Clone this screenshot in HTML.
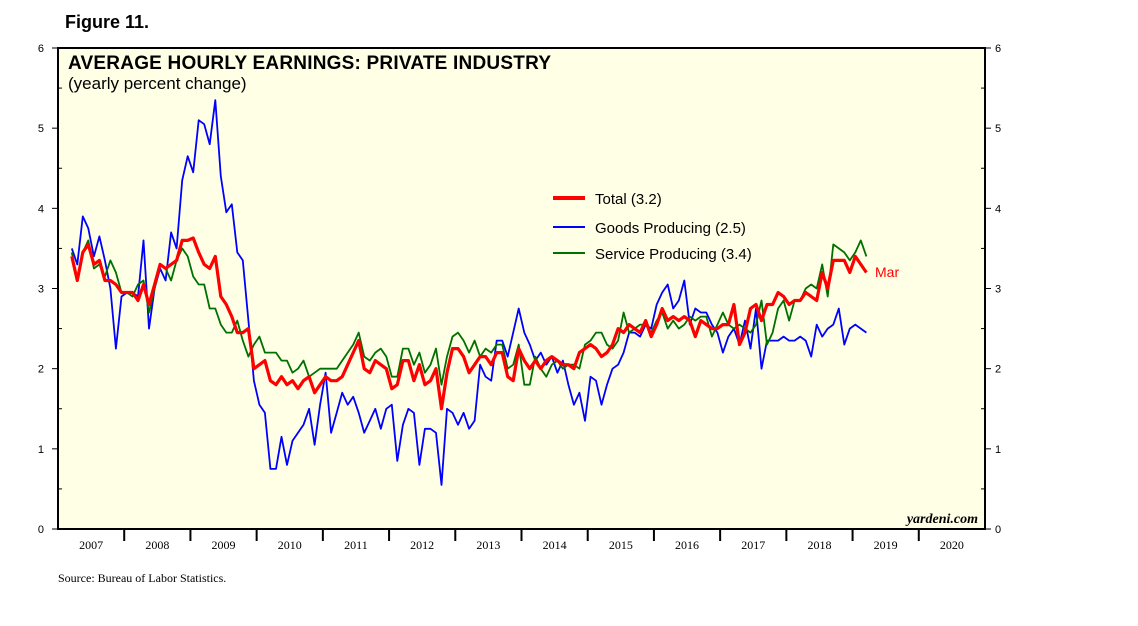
<!DOCTYPE html>
<html><head><meta charset="utf-8"><style>
body{margin:0;background:#fff;width:1138px;height:621px;overflow:hidden;font-family:"Liberation Sans",sans-serif}
</style></head><body>
<svg width="1138" height="621" xmlns="http://www.w3.org/2000/svg">
<text x="65" y="28" font-size="18" font-weight="bold" font-family="Liberation Sans">Figure 11.</text>
<rect x="58" y="48" width="927" height="481" fill="#ffffe6" stroke="#000" stroke-width="2"/>
<text x="68" y="69" font-size="19" font-weight="bold" font-family="Liberation Sans" textLength="483">AVERAGE HOURLY EARNINGS: PRIVATE INDUSTRY</text>
<text x="68" y="89" font-size="17" font-family="Liberation Sans">(yearly percent change)</text>
<g id="axes"></g>
<g id="series"></g>
<g>
<line x1="553" y1="198" x2="585" y2="198" stroke="#f00" stroke-width="4"/>
<text x="595" y="204" font-size="15">Total (3.2)</text>
<line x1="553" y1="227" x2="585" y2="227" stroke="#00f" stroke-width="2"/>
<text x="595" y="233" font-size="15">Goods Producing (2.5)</text>
<line x1="553" y1="253" x2="585" y2="253" stroke="#007000" stroke-width="2"/>
<text x="595" y="259" font-size="15">Service Producing (3.4)</text>
</g>
<text x="875" y="277" font-size="14" fill="#f00">Mar</text>
<text x="978" y="523" font-size="14" font-style="italic" font-weight="bold" font-family="Liberation Serif" text-anchor="end">yardeni.com</text>
<text x="58" y="582" font-size="12" font-family="Liberation Serif">Source: Bureau of Labor Statistics.</text>
</svg>
<script>
const years=[2007,2008,2009,2010,2011,2012,2013,2014,2015,2016,2017,2018,2019,2020];
const yTicks=[0,1,2,3,4,5,6];
const total=[3.4,3.1,3.45,3.55,3.3,3.35,3.1,3.1,3.05,2.95,
2.95,2.95,2.85,3.05,2.8,3.05,3.3,3.25,3.3,3.35,3.6,3.6,
3.63,3.45,3.3,3.25,3.4,2.9,2.8,2.65,2.45,2.45,2.5,2.0,
2.05,2.1,1.85,1.8,1.9,1.8,1.85,1.75,1.85,1.9,1.7,1.8,
1.9,1.85,1.85,1.9,2.05,2.2,2.35,2.0,1.95,2.1,2.05,2.0,
1.75,1.8,2.1,2.1,1.85,2.05,1.8,1.85,2.0,1.5,1.95,2.25,
2.25,2.15,1.95,2.05,2.15,2.15,2.05,2.2,2.2,1.9,1.85,2.25,
2.1,2.0,2.1,2.0,2.1,2.15,2.1,2.05,2.05,2.0,2.2,2.25,
2.3,2.25,2.15,2.2,2.3,2.5,2.45,2.55,2.5,2.45,2.6,2.4,
2.55,2.75,2.6,2.65,2.6,2.65,2.6,2.4,2.6,2.55,2.5,2.5,
2.55,2.55,2.8,2.3,2.45,2.75,2.8,2.6,2.8,2.8,2.95,2.9,
2.8,2.85,2.85,2.95,2.9,2.85,3.2,3.0,3.35,3.35,3.35,3.2,
3.4,3.3,3.2];
const goods=[3.5,3.3,3.9,3.75,3.4,3.65,3.35,3.0,2.25,2.9,
2.95,2.95,2.9,3.6,2.5,3.0,3.25,3.1,3.7,3.5,4.35,4.65,
4.45,5.1,5.05,4.8,5.35,4.4,3.95,4.05,3.45,3.35,2.6,1.85,
1.55,1.45,0.75,0.75,1.15,0.8,1.1,1.2,1.3,1.5,1.05,1.55,
1.95,1.2,1.45,1.7,1.55,1.65,1.45,1.2,1.35,1.5,1.25,1.5,
1.55,0.85,1.3,1.5,1.45,0.8,1.25,1.25,1.2,0.55,1.5,1.45,
1.3,1.45,1.25,1.35,2.05,1.9,1.85,2.35,2.35,2.15,2.45,2.75,
2.45,2.3,2.1,2.2,2.05,2.15,1.95,2.1,1.8,1.55,1.7,1.35,
1.9,1.85,1.55,1.8,2.0,2.05,2.2,2.45,2.45,2.4,2.55,2.5,
2.8,2.95,3.05,2.75,2.85,3.1,2.55,2.75,2.7,2.7,2.55,2.45,
2.2,2.4,2.5,2.3,2.6,2.25,2.75,2.0,2.35,2.35,2.35,2.4,
2.35,2.35,2.4,2.35,2.15,2.55,2.4,2.5,2.55,2.75,2.3,2.5,
2.55,2.5,2.45];
const service=[3.45,3.1,3.45,3.6,3.25,3.3,3.15,3.35,3.2,2.95,
2.95,2.9,3.05,3.1,2.7,3.0,3.3,3.25,3.1,3.35,3.5,3.4,
3.15,3.05,3.05,2.75,2.75,2.55,2.45,2.45,2.6,2.35,2.15,2.3,
2.4,2.2,2.2,2.2,2.1,2.1,1.95,2.0,2.1,1.9,1.95,2.0,
2.0,2.0,2.0,2.1,2.2,2.3,2.45,2.15,2.1,2.2,2.25,2.15,
1.9,1.9,2.25,2.25,2.05,2.2,1.95,2.05,2.25,1.8,2.15,2.4,
2.45,2.35,2.2,2.35,2.15,2.25,2.2,2.3,2.3,2.0,2.05,2.3,
1.8,1.8,2.15,2.0,1.9,2.05,2.1,2.0,2.05,2.05,2.0,2.3,
2.35,2.45,2.45,2.3,2.25,2.35,2.7,2.45,2.5,2.55,2.55,2.45,
2.6,2.7,2.5,2.6,2.5,2.55,2.65,2.6,2.65,2.65,2.4,2.55,
2.7,2.55,2.5,2.55,2.5,2.45,2.55,2.85,2.3,2.45,2.75,2.85,
2.6,2.85,2.85,3.0,3.05,3.0,3.3,2.9,3.55,3.5,3.45,3.35,
3.45,3.6,3.4];
const startMonth=2; // March 2007
const X0=58,X1=985,Y0=529,Y1=48;
const xm=m=>X0+(m+0.5)*(X1-X0)/(years.length*12);
const xy=yr=>X0+(yr-years[0])*(X1-X0)/years.length;
const yv=v=>Y0-v*(Y0-Y1)/6;
const NS="http://www.w3.org/2000/svg";
function mk(tag,attrs,parent){const e=document.createElementNS(NS,tag);for(const k in attrs)e.setAttribute(k,attrs[k]);parent.appendChild(e);return e;}
const ax=document.getElementById('axes');
yTicks.forEach(v=>{
  const y=yv(v);
  let t=mk('line',{x1:X0-6,y1:y,x2:X0,y2:y,stroke:'#000'},ax);
  
  
  t=mk('line',{x1:X1,y1:y,x2:X1+6,y2:y,stroke:'#000'},ax);
  
  
  let l=mk('text',{x:X0-14,y:y+4,'font-size':11,'text-anchor':'end'},ax);l.textContent=v;
  
  
  l=mk('text',{x:X1+10,y:y+4,'font-size':11},ax);l.textContent=v;
  
  
  if(v<6){const h=yv(v+0.5);
    t=mk('line',{x1:X0,y1:h,x2:X0+4,y2:h,stroke:'#000'},ax);
    
    
    t=mk('line',{x1:X1-4,y1:h,x2:X1,y2:h,stroke:'#000'},ax);
    
    }
});
years.forEach((yr,i)=>{
  const x=xy(yr);
  if(i>0){const t=mk('line',{x1:x,y1:Y0,x2:x,y2:Y0+12,stroke:'#000','stroke-width':2},ax);
    
    }
  const l=mk('text',{x:x+(X1-X0)/years.length/2,y:Y0+20,'font-size':12,'text-anchor':'middle','font-family':'Liberation Serif'},ax);
  l.textContent=yr;
  
  
});
const sg=document.getElementById('series');
function draw(arr,color,w,name){
  const pts=arr.map((v,i)=>xm(startMonth+i).toFixed(1)+','+yv(v).toFixed(1)).join(' ');
  const p=mk('polyline',{points:pts,fill:'none',stroke:color,'stroke-width':w,'stroke-linejoin':'round'},sg);
  
  
}
draw(goods,'#0000ff',1.8,'goods-producing-line');
draw(service,'#007000',1.8,'service-producing-line');
draw(total,'#ff0000',3.2,'total-line');
</script>
</body></html>
